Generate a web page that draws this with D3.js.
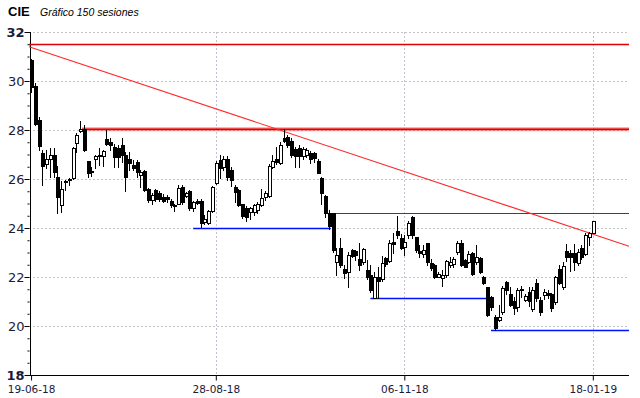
<!DOCTYPE html>
<html><head><meta charset="utf-8">
<script src="https://cdn.jsdelivr.net/npm/d3@7"></script>
<style>body{margin:0;background:#fff}svg{display:block}</style>
</head><body>
<svg id="c" width="640" height="398"></svg>
<script>
const title = "CIE";
const subtitle = "Gráfico 150 sesiones";
const dateLabels = ["19-06-18","28-08-18","06-11-18","18-01-19"];
const dateTickIdx = [0,49,99,149];
const yTicks = [18,20,22,24,26,28,30,32];

const open = [
30.85,29.8,28.4,27.05,26.6,26.8,27.0,26.07,24.95,25.92,
25.96,26.05,27.45,27.97,28.03,26.75,26.33,26.8,26.92,26.94,
27.62,27.5,27.3,27.27,27.4,26.98,26.8,26.57,26.7,26.16,
26.34,25.6,25.14,25.55,25.44,25.28,25.25,25.11,24.94,25.0,
25.69,25.31,25.52,24.8,25.11,25.1,24.26,24.22,24.71,25.82,
26.78,26.5,26.8,26.37,25.69,25.55,24.98,24.8,24.67,24.67,
24.73,24.94,25.25,25.31,26.5,26.8,26.64,27.66,27.73,27.56,
27.21,27.25,26.94,26.98,27.07,27.05,26.75,26.03,25.3,24.6,
24.6,22.62,23.17,22.31,22.22,23.1,23.05,22.73,22.62,22.29,
22.08,21.13,21.99,21.9,22.76,22.67,23.44,23.89,23.58,23.21,
23.71,24.46,23.62,23.07,22.94,23.38,22.56,22.49,22.01,21.95,
22.08,22.49,22.53,23.03,23.4,22.69,22.62,22.97,22.6,22.76,
21.99,21.58,21.2,20.38,20.24,20.58,21.81,21.31,21.03,20.79,
21.45,21.06,21.4,20.7,21.77,21.06,21.26,21.35,21.29,20.99,
22.31,21.58,23.06,22.99,22.99,22.56,23.2,22.94,23.64,23.81];
const high = [
30.9,29.9,28.55,27.2,27.2,27.25,27.25,26.55,25.9,25.95,
26.05,27.3,27.87,28.35,28.2,26.75,26.5,27.0,27.28,27.2,
28.0,27.66,27.42,27.4,27.66,27.1,27.09,26.78,26.78,26.37,
26.37,25.65,25.44,25.6,25.5,25.4,25.35,25.2,25.0,25.76,
25.76,25.48,25.55,25.12,25.2,25.17,24.55,24.75,25.7,26.75,
26.98,26.94,26.95,26.5,25.76,25.6,25.0,24.9,24.85,25.0,
25.05,25.6,25.5,26.6,27.0,27.32,27.5,28.03,27.8,27.66,
27.32,27.4,27.3,27.28,27.16,27.1,26.8,26.07,25.35,24.75,
24.62,23.17,23.58,22.5,23.03,23.15,23.1,23.4,23.2,22.7,
22.49,22.2,22.42,22.85,22.8,23.5,23.78,24.49,23.75,23.7,
24.3,24.5,23.62,23.3,23.3,23.38,22.75,22.55,22.2,22.29,
22.7,22.8,22.8,23.45,23.5,22.72,23.05,23.03,23.3,22.83,
22.05,21.6,21.24,20.45,20.85,21.62,21.85,21.6,21.2,21.54,
21.65,21.3,21.6,21.6,21.9,21.2,21.5,21.45,21.35,22.05,
22.5,22.6,23.35,23.1,23.35,23.15,23.3,23.8,23.85,24.3];
const low = [
29.55,28.2,27.2,25.75,26.45,26.1,26.1,24.6,24.65,25.55,
25.75,26.0,27.1,27.9,27.15,26.1,26.12,26.45,26.57,26.55,
27.4,27.18,26.5,26.5,26.7,25.5,26.37,26.37,26.1,25.69,
25.5,25.05,25.0,25.1,25.1,25.05,25.05,24.84,24.7,24.98,
25.0,25.25,24.75,24.7,25.0,24.05,24.16,24.18,24.65,25.8,
26.03,26.35,25.95,25.7,25.07,24.9,24.4,24.3,24.35,24.55,
24.6,24.9,25.15,25.28,26.45,26.6,26.6,27.5,27.3,26.9,
26.5,26.5,26.8,26.9,26.66,26.7,26.26,25.0,24.45,23.95,
23.0,22.08,22.4,21.95,21.6,22.8,22.7,22.3,22.55,21.9,
21.4,21.13,21.14,21.85,22.45,22.6,22.97,23.6,23.15,22.9,
23.6,23.6,23.0,22.8,22.8,22.5,22.3,21.95,21.98,21.63,
22.0,22.4,22.4,22.95,22.45,22.4,22.58,22.08,22.55,22.18,
21.72,20.4,20.65,19.84,20.2,20.5,21.3,20.8,20.5,20.6,
21.2,21.0,20.8,20.6,21.0,20.45,21.1,21.15,20.6,20.9,
21.7,21.5,22.65,22.25,22.3,22.5,22.75,22.9,23.3,23.8];
const close = [
29.75,28.25,27.35,26.55,26.8,26.97,26.3,25.25,25.6,25.88,
26.0,27.28,27.8,28.05,27.2,26.25,26.27,26.95,26.97,27.15,
27.43,27.37,26.88,26.9,27.0,26.07,26.64,26.46,26.3,26.3,
25.55,25.14,25.35,25.17,25.17,25.11,25.17,24.94,24.9,25.62,
25.07,25.44,24.8,25.07,25.03,24.19,24.36,24.71,25.66,26.67,
26.44,26.8,26.1,25.96,25.48,24.94,24.5,24.46,24.8,24.94,
24.98,25.21,25.44,26.53,26.75,26.7,27.39,27.56,27.39,26.98,
26.94,26.94,27.21,27.18,26.8,26.84,26.26,25.42,24.6,24.1,
23.1,22.9,22.49,22.18,22.9,22.86,22.9,22.49,23.13,21.99,
21.47,21.99,21.85,22.56,22.53,23.37,23.35,23.71,23.17,23.44,
24.22,23.71,23.1,22.99,23.1,22.62,22.36,22.01,22.12,22.08,
22.67,22.62,22.72,23.37,22.49,22.42,22.94,22.12,22.8,22.22,
21.77,20.45,20.76,19.9,20.38,21.54,21.47,20.86,20.72,21.47,
21.5,21.22,21.0,21.47,21.14,20.58,21.4,21.25,20.72,21.99,
21.74,22.45,22.8,22.8,22.62,23.03,22.81,23.71,23.78,24.29];

// resistance levels (red) and support levels (blue): value, start index, end index (null = to chart end)
const resistLevel = [31.53, 28.03, 24.6];
const resistStart = [null, 13.5, 79.5];
const supportLevel = [24.0, 21.13, 19.83];
const supportStart = [43, 90, 122];
const supportEnd = [79.5, 121, null];
// trend line: two anchor points (index, value)
const trendIdx = [0, 149];
const trendVal = [31.37, 23.75];

const svg = d3.select("#c");
const W = 640, H = 398;
const m = {left: 29, right: 11, top: 32, bottom: 23};
const x = d3.scaleLinear().domain([-0.55, 158.6]).range([m.left, W - m.right]);
const y = d3.scaleLinear().domain([18, 32]).range([H - m.bottom, m.top]);
const x0 = x.range()[0], x1 = x.range()[1];

// grid
const grid = svg.append("g");
grid.selectAll("line.h").data(yTicks.filter(d => d > 18)).enter().append("line")
  .attr("x1", x0).attr("x2", x1).attr("y1", d => Math.round(y(d)) + 0.5).attr("y2", d => Math.round(y(d)) + 0.5)
  .attr("stroke", "#c4c4c4").attr("stroke-dasharray", "2,2").attr("shape-rendering", "crispEdges");
grid.selectAll("line.v").data(dateTickIdx.slice(1)).enter().append("line")
  .attr("x1", d => Math.round(x(d)) + 0.5).attr("x2", d => Math.round(x(d)) + 0.5)
  .attr("y1", y(32)).attr("y2", y(18))
  .attr("stroke", "#c8c0d0").attr("stroke-dasharray", "2,2").attr("shape-rendering", "crispEdges");

// axes
const yAxis = d3.axisLeft(y).tickValues(yTicks).tickSize(5).tickFormat(d3.format("d"));
const ya = svg.append("g").attr("transform", `translate(${x0 + 0.5},0)`).call(yAxis);
ya.select(".domain").attr("stroke", "#000").attr("shape-rendering", "crispEdges");
ya.selectAll(".tick line").attr("stroke", "#000");
ya.selectAll(".tick text").attr("x", -5).attr("font-family", "DejaVu Sans, Verdana, sans-serif")
  .attr("font-size", 13).attr("fill", "#1a1a3a")
  .attr("font-weight", d => (d === 32 || d === 18) ? "bold" : "normal");
const minorTicks = d3.range(18.5, 32, 0.5).filter(v => v % 2 !== 0);
const yMinor = d3.axisLeft(y).tickValues(minorTicks).tickSize(2).tickFormat("");
const ym = svg.append("g").attr("transform", `translate(${x0 + 0.5},0)`).call(yMinor);
ym.select(".domain").remove();
ym.selectAll(".tick line").attr("stroke", "#000");

const xAxis = d3.axisBottom(x).tickValues(dateTickIdx).tickSize(5).tickFormat((d, i) => dateLabels[i]);
const xa = svg.append("g").attr("transform", `translate(0,${Math.round(y(18)) + 0.5})`).call(xAxis);
xa.select(".domain").attr("stroke", "#000").attr("d", `M${x0},0H${x1}`);
xa.selectAll(".tick line").attr("stroke", "#000");
xa.selectAll(".tick text").attr("font-family", "DejaVu Sans, Verdana, sans-serif").attr("font-size", 10.5)
  .attr("fill", "#1a1a3a").attr("dy", "0.9em");

// level lines
const lv = svg.append("g");
resistLevel.forEach((v, i) => {
  const xs = resistStart[i] == null ? x0 : x(resistStart[i]);
  if (i === 1) {
    lv.append("line").attr("x1", xs).attr("x2", x1).attr("y1", y(v)).attr("y2", y(v))
      .attr("stroke", "#ff2020").attr("stroke-width", 4).attr("opacity", 0.45);
    lv.append("line").attr("x1", xs).attr("x2", x1).attr("y1", y(v)).attr("y2", y(v))
      .attr("stroke", "#e00000").attr("stroke-width", 1.6);
  } else {
    lv.append("line").attr("x1", xs).attr("x2", x1).attr("y1", Math.round(y(v)) + 0.5).attr("y2", Math.round(y(v)) + 0.5)
      .attr("stroke", "#e00000").attr("stroke-width", i === 0 ? 1.3 : 1);
  }
});
supportLevel.forEach((v, i) => {
  const xe = supportEnd[i] == null ? x1 : x(supportEnd[i]);
  lv.append("line").attr("x1", x(supportStart[i])).attr("x2", xe)
    .attr("y1", Math.round(y(v)) + 0.5).attr("y2", Math.round(y(v)) + 0.5)
    .attr("stroke", "#0010ff").attr("stroke-width", 1.3);
});
// trend line extended across plot
const slope = (trendVal[1] - trendVal[0]) / (trendIdx[1] - trendIdx[0]);
const tv = i => trendVal[0] + slope * (i - trendIdx[0]);
const d0 = x.domain()[0], d1 = x.domain()[1];
lv.append("line").attr("x1", x(d0)).attr("y1", y(tv(d0))).attr("x2", x(d1)).attr("y2", y(tv(d1)))
  .attr("stroke", "#ff2a2a").attr("stroke-width", 1.1);

// candles
const cg = svg.append("g").attr("shape-rendering", "crispEdges");
const idx = d3.range(open.length);
cg.selectAll("line.w").data(idx).enter().append("line")
  .attr("x1", i => Math.round(x(i)) + 0.5).attr("x2", i => Math.round(x(i)) + 0.5)
  .attr("y1", i => Math.round(y(high[i]))).attr("y2", i => Math.round(y(low[i])) + 1)
  .attr("stroke", "#000");
cg.selectAll("rect").data(idx).enter().append("rect")
  .attr("x", i => Math.round(x(i)) - 1)
  .attr("width", 3)
  .attr("y", i => Math.round(y(Math.max(open[i], close[i]))) + 0.5)
  .attr("height", i => Math.max(1, Math.round(y(Math.min(open[i], close[i]))) - Math.round(y(Math.max(open[i], close[i])))))
  .attr("fill", i => close[i] >= open[i] ? "#fff" : "#000")
  .attr("stroke", "#000").attr("stroke-width", 1);

// title
svg.append("text").attr("x", 8).attr("y", 16).text(title)
  .attr("font-family", "Liberation Sans, Arial, sans-serif").attr("font-weight", "bold").attr("font-size", 13).attr("fill", "#000");
svg.append("text").attr("x", 40).attr("y", 16).text(subtitle)
  .attr("font-family", "Liberation Sans, Arial, sans-serif").attr("font-style", "italic").attr("font-size", 10.5).attr("fill", "#000");
</script>
</body></html>
